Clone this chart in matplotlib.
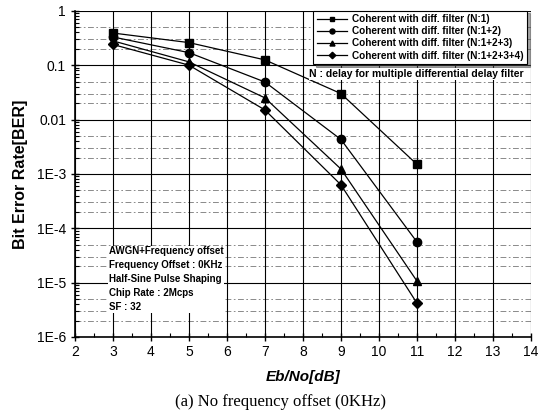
import matplotlib
matplotlib.use("Agg")
import matplotlib.pyplot as plt
from matplotlib.ticker import FixedLocator, LogLocator, NullFormatter, MultipleLocator

ebno = [3, 5, 7, 9, 11]
ber_n1 = [0.39, 0.26, 0.125, 0.030, 0.0015]
ber_n12 = [0.33, 0.17, 0.049, 0.0043, 5.6e-5]
ber_n123 = [0.28, 0.115, 0.025, 0.00123, 1.07e-5]
ber_n1234 = [0.24, 0.10, 0.015, 0.00063, 4.2e-6]

labels = ['Coherent with diff. filter (N:1)',
          'Coherent with diff. filter (N:1+2)',
          'Coherent with diff. filter (N:1+2+3)',
          'Coherent with diff. filter (N:1+2+3+4)']
markers = ['s', 'o', '^', 'D']
ytick_vals = [1, 0.1, 0.01, 1e-3, 1e-4, 1e-5, 1e-6]
ytick_labels = ['1', '0.1', '0.01', '1E-3', '1E-4', '1E-5', '1E-6']

plt.rcParams['font.family'] = ['Liberation Sans', 'DejaVu Sans']

fig = plt.figure(figsize=(5.39, 4.15), dpi=100)
ax = fig.add_axes([0.139, 0.188, 0.846, 0.786])

series = [ber_n1, ber_n12, ber_n123, ber_n1234]
for ys, m, lab in zip(series, markers, labels):
    ax.plot(ebno, ys, color='black', linewidth=0.9, marker=m,
            markersize=6 if m != 'D' else 5.5, markerfacecolor='black',
            label=lab)

ax.set_yscale('log')
ax.set_xlim(2, 14)
ax.set_ylim(1e-6, 1)
ax.xaxis.set_major_locator(MultipleLocator(1))
ax.xaxis.set_minor_locator(MultipleLocator(0.5))
ax.yaxis.set_major_locator(FixedLocator(ytick_vals))
ax.set_yticklabels(ytick_labels)
ax.yaxis.set_minor_locator(LogLocator(base=10, subs=range(2, 10)))
ax.yaxis.set_minor_formatter(NullFormatter())

ax.tick_params(axis='both', which='major', direction='inout', length=6,
               width=1, labelsize=10)
ax.tick_params(axis='both', which='minor', direction='in', length=3, width=0.8)
ax.tick_params(axis='x', pad=3)

# dashed guide lines between the decades
ax.grid(True, which='major', color='black', linewidth=0.8)
for dec in [1e-6, 1e-5, 1e-4, 1e-3, 1e-2, 1e-1]:
    for s in [2, 3, 5]:
        ax.axhline(dec * s, color='#777777', linewidth=0.6,
                   linestyle=(0, (7, 3, 2, 3)), zorder=0.5)

for side in ['top', 'right']:
    ax.spines[side].set_visible(False)
ax.spines['left'].set_linewidth(1.2)
ax.spines['bottom'].set_linewidth(1.2)

ax.set_xlabel('Eb/No[dB]', fontsize=11, fontweight='bold', style='italic', labelpad=8)
ax.set_ylabel('Bit Error Rate[BER]', fontsize=11.5, fontweight='bold', labelpad=6)

leg = ax.legend(loc='upper right', frameon=True, fancybox=False,
                shadow=True, edgecolor='black', handlelength=3.0,
                markerscale=0.6, borderpad=0.35, labelspacing=0.22,
                handletextpad=0.5, bbox_to_anchor=(1.002, 1.016),
                prop={'weight': 'bold', 'size': 7.2})
leg.get_frame().set_linewidth(0.8)

ax.text(0.985, 0.806, 'N : delay for multiple differential delay filter',
        transform=ax.transAxes, ha='right', va='center', fontsize=7.5,
        fontweight='bold', zorder=6,
        bbox=dict(facecolor='white', edgecolor='none', pad=0.5))

info = ('AWGN+Frequency offset\nFrequency Offset : 0KHz\n'
        'Half-Sine Pulse Shaping\nChip Rate : 2Mcps\nSF : 32')
ax.text(0.075, 0.278, info, transform=ax.transAxes, ha='left', va='top',
        fontsize=7, fontweight='bold', linespacing=1.5,
        bbox=dict(facecolor='white', edgecolor='none', pad=0.5))

fig.text(0.52, 0.012, '(a) No frequency offset (0KHz)', ha='center', va='bottom',
         fontsize=12, family=['Liberation Serif', 'DejaVu Serif'])

fig.savefig('out.png', dpi=100)
